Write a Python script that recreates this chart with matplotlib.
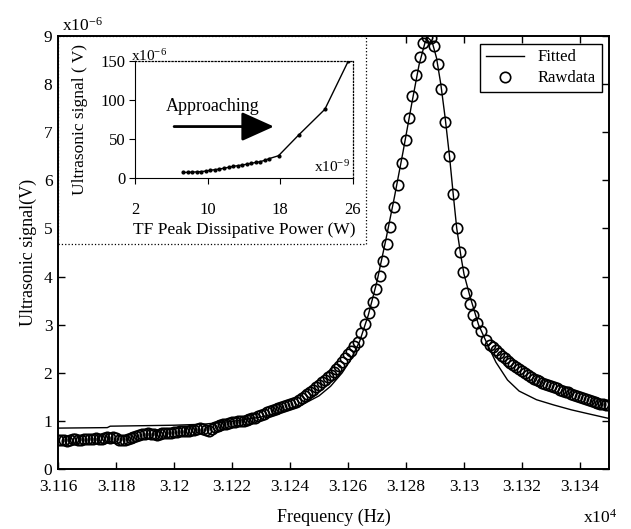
import matplotlib
matplotlib.use("Agg")
import matplotlib.pyplot as plt
from matplotlib.patches import Rectangle

plt.rcParams['font.family'] = ['Liberation Serif', 'DejaVu Serif']
plt.rcParams['mathtext.default'] = 'regular'

# raw resonance sweep (Hz, x1e-6 V)
raw_freq = [31160, 31161, 31162, 31163, 31164, 31165, 31166, 31167, 31168, 31169,
            31170, 31171, 31172, 31173, 31174, 31175, 31176, 31177, 31178, 31179,
            31180, 31181, 31182, 31183, 31184, 31185, 31186, 31187, 31188, 31189,
            31190, 31191, 31192, 31193, 31194, 31195, 31196, 31197, 31198, 31199,
            31200, 31201, 31202, 31203, 31204, 31205, 31206, 31207, 31208, 31209,
            31210, 31211, 31212, 31213, 31214, 31215, 31216, 31217, 31218, 31219,
            31220, 31221, 31222, 31223, 31224, 31225, 31226, 31227, 31228, 31229,
            31230, 31231, 31232, 31233, 31234, 31235, 31236, 31237, 31238, 31239,
            31240, 31241, 31242, 31243, 31244, 31245, 31246, 31247, 31248, 31249,
            31250, 31251, 31252, 31253, 31254, 31255, 31256, 31257, 31258, 31259,
            31260, 31261, 31262,
            31263.3, 31264.6, 31265.9, 31267.2, 31268.5, 31269.8, 31271.0, 31272.2,
            31273.4, 31274.6, 31275.9, 31277.2, 31278.7, 31280.0, 31281.1, 31282.2,
            31283.5, 31284.8, 31286.0, 31287.3, 31288.5, 31289.8, 31291.0, 31292.2,
            31293.6, 31294.9, 31296.1, 31297.5, 31298.5, 31299.5, 31300.8, 31302.0,
            31303.2, 31304.5, 31306.0, 31307.6,
            31309, 31310, 31311, 31312, 31313, 31314, 31315, 31316, 31317, 31318,
            31319, 31320, 31321, 31322, 31323, 31324, 31325, 31326, 31327, 31328,
            31329, 31330, 31331, 31332, 31333, 31334, 31335, 31336, 31337, 31338,
            31339, 31340, 31341, 31342, 31343, 31344, 31345, 31346, 31347, 31348,
            31349, 31350]
raw_sig = [0.60, 0.61, 0.60, 0.59, 0.61, 0.62, 0.62, 0.61, 0.61, 0.63,
           0.62, 0.62, 0.63, 0.64, 0.63, 0.63, 0.64, 0.66, 0.65, 0.66,
           0.64, 0.61, 0.60, 0.61, 0.63, 0.65, 0.67, 0.69, 0.70, 0.72,
           0.72, 0.74, 0.73, 0.72, 0.71, 0.73, 0.74, 0.74, 0.75, 0.75,
           0.76, 0.77, 0.78, 0.79, 0.79, 0.80, 0.81, 0.82, 0.83, 0.85,
           0.84, 0.82, 0.80, 0.84, 0.87, 0.89, 0.91, 0.93, 0.94, 0.96,
           0.97, 0.98, 0.99, 1.00, 1.00, 1.02, 1.03, 1.05, 1.07, 1.10,
           1.12, 1.15, 1.18, 1.20, 1.22, 1.24, 1.26, 1.29, 1.31, 1.34,
           1.36, 1.38, 1.40, 1.44, 1.48, 1.52, 1.56, 1.60, 1.64, 1.70,
           1.75, 1.80, 1.86, 1.91, 1.96, 2.02, 2.08, 2.15, 2.22, 2.30,
           2.38, 2.46, 2.55,
           2.65, 2.83, 3.02, 3.25, 3.48, 3.74, 4.01, 4.32,
           4.68, 5.04, 5.45, 5.90, 6.36, 6.83, 7.30, 7.76,
           8.18, 8.57, 8.86, 8.98, 8.96, 8.80, 8.42, 7.90,
           7.22, 6.51, 5.71, 5.01, 4.51, 4.09, 3.66, 3.42,
           3.21, 3.04, 2.86, 2.69,
           2.58, 2.53, 2.47, 2.41, 2.35, 2.30, 2.25, 2.20, 2.16, 2.12,
           2.08, 2.03, 1.99, 1.95, 1.92, 1.88, 1.85, 1.82, 1.79, 1.76,
           1.74, 1.72, 1.70, 1.68, 1.65, 1.62, 1.61, 1.60, 1.56, 1.53,
           1.51, 1.49, 1.47, 1.45, 1.43, 1.41, 1.39, 1.37, 1.36, 1.35,
           1.34, 1.33]

# fitted curve
fit_freq = [31160, 31177, 31178, 31200, 31210, 31220, 31230, 31238, 31244, 31250,
            31254, 31258, 31261, 31264, 31267, 31270, 31273, 31276, 31279, 31282,
            31284.5, 31286.5, 31287.5, 31289, 31290.5, 31292, 31293.5, 31295, 31296.3,
            31297.5, 31299, 31300, 31302, 31305, 31308, 31311, 31315, 31319, 31325,
            31331, 31337, 31342, 31350]
fit_sig = [0.85, 0.86, 0.89, 0.91, 0.93, 0.99, 1.08, 1.20, 1.33, 1.52,
           1.72, 2.00, 2.28, 2.65, 3.20, 3.90, 4.75, 5.65, 6.60, 7.60,
           8.40, 8.85, 8.97, 8.88, 8.55, 8.00, 7.30, 6.50, 5.70,
           5.00, 4.40, 4.05, 3.60, 3.00, 2.60, 2.22, 1.85, 1.62, 1.44,
           1.33, 1.23, 1.16, 1.05]

# inset: signal vs TF peak dissipative power (x1e-9 W, x1e-6 V)
power = [7.3, 7.8, 8.3, 8.8, 9.3, 9.8, 10.3, 10.8, 11.3, 11.8, 12.3, 12.8,
         13.3, 13.8, 14.3, 14.8, 15.3, 15.8, 16.3, 16.8, 17.8, 20.0, 22.9, 25.5]
approach_sig = [7.4, 7.6, 7.9, 8.2, 8.6, 9.2, 10.3, 11.0, 11.8, 12.9, 14.0, 15.2,
                16.1, 16.9, 18.0, 19.2, 20.2, 21.3, 23.0, 25.2, 28.8, 55, 88, 150]

freq_ticks = [31160, 31180, 31200, 31220, 31240, 31260, 31280, 31300, 31320, 31340]

W, H = 631, 529
fig = plt.figure(figsize=(W / 100, H / 100), dpi=100)
ax = fig.add_axes([58 / W, 1 - 469 / H, 551 / W, 433 / H])

ax.plot(fit_freq, fit_sig, color='black', lw=1.0, label='Fitted')
ax.plot(raw_freq, raw_sig, 'o', mfc='none', mec='black', ms=7.5, mew=1.2,
        label='Rawdata')

ax.set_xlim(31160, 31350)
ax.set_ylim(0, 9)
ax.set_xticks(freq_ticks)
ax.set_xticklabels([f"{t / 1e4:g}" for t in freq_ticks])
ax.set_yticks(range(10))
ax.tick_params(direction='in', top=True, right=True, length=5, width=1,
               labelsize=12.5)
ax.tick_params(axis='x', pad=7)
ax.tick_params(axis='y', pad=4)
for s in ax.spines.values():
    s.set_linewidth(1.4)

ax.set_xlabel('Frequency (Hz)', fontsize=13, labelpad=10)
ax.set_ylabel('Ultrasonic signal(V)', fontsize=13, labelpad=5)
ax.text(0.007, 1.012, 'x10$^{-6}$', transform=ax.transAxes, fontsize=12.5,
        ha='left', va='baseline')
ax.text(1.015, -0.125, 'x10$^{4}$', transform=ax.transAxes, fontsize=12.5,
        ha='right', va='baseline')

leg = ax.legend(loc='upper right', fontsize=12, fancybox=False, edgecolor='black',
                framealpha=1, borderaxespad=0.45, handlelength=2.3,
                borderpad=0.35, labelspacing=0.3)
leg.get_frame().set_linewidth(1.0)

# white dotted box behind the inset
box = Rectangle((0, (469 - 244) / 433), (366 - 58) / 551, (244 - 36) / 433,
                transform=ax.transAxes, facecolor='white', edgecolor='black',
                linestyle=':', lw=0.9, zorder=2.4)
ax.add_patch(box)

ins = fig.add_axes([135 / W, 1 - 178.3 / H, 218 / W, 117.6 / H], zorder=5)
ins.set_facecolor('none')
ins.plot(power, approach_sig, color='black', lw=1.0, marker='.', ms=4)
ins.set_xlim(2, 26)
ins.set_ylim(0, 150)
ins.set_xticks([2, 10, 18, 26])
ins.set_yticks([0, 50, 100, 150])
ins.tick_params(axis='x', direction='out', length=4, labelsize=12, pad=13)
ins.tick_params(axis='y', direction='out', length=4, labelsize=12, pad=3)
ins.spines['top'].set_linestyle(':')
ins.spines['right'].set_linestyle(':')
ins.spines['top'].set_linewidth(0.9)
ins.spines['right'].set_linewidth(0.9)
ins.set_xlabel('TF Peak Dissipative Power (W)', fontsize=12.5, labelpad=3)
ins.set_ylabel('Ultrasonic signal ( V)', fontsize=12.5, labelpad=9)
ins.text(-0.02, 1.0, 'x10$^{-6}$', transform=ins.transAxes, fontsize=11,
         ha='left', va='baseline')
ins.text(0.986, 0.056, 'x10$^{-9}$', transform=ins.transAxes, fontsize=11,
         ha='right', va='baseline')
ins.text(5.4, 91, 'Approaching', fontsize=13, ha='left', va='center')
ins.annotate('', xy=(17.6, 66), xytext=(6.0, 66),
             arrowprops=dict(arrowstyle='-|>,head_length=1.0,head_width=0.45',
                             color='black', lw=2, mutation_scale=20))

plt.savefig('out.png', dpi=100)
